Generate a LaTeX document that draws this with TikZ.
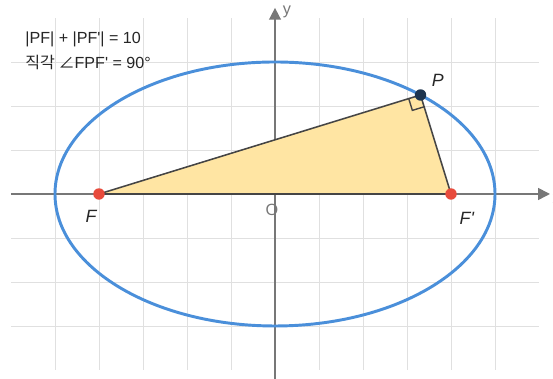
\documentclass[tikz,border=0pt]{standalone}
\usepackage{fontspec}
\setsansfont{Liberation Sans}
\newfontfamily\krfont{Noto Sans CJK KR}
\usetikzlibrary{arrows.meta, positioning, calc}
\definecolor{ggrid}{HTML}{E0E0E0}
\definecolor{gaxis}{HTML}{777777}
\definecolor{eblue}{HTML}{4A8FDA}
\definecolor{tfill}{HTML}{FFE5A3}
\definecolor{tedge}{HTML}{454545}
\definecolor{fred}{HTML}{E84B3C}
\definecolor{pnavy}{HTML}{1E354F}

\begin{document}
\begin{tikzpicture}

\tikzstyle{gridline} = [ggrid, line width=0.6pt]
\tikzstyle{axis} = [-{Triangle[length=0.27cm, width=0.27cm]}, gaxis, line width=1pt]
\tikzstyle{axlabel} = [text=gaxis, font=\sffamily\fontsize{10.5}{12}\selectfont, inner sep=0pt]
\tikzstyle{curve} = [eblue, line width=1.9pt]
\tikzstyle{tri} = [draw=tedge, fill=tfill, line width=1pt, line join=round]
\tikzstyle{focus} = [circle, fill=fred, minimum size=0.26cm, inner sep=0pt]
\tikzstyle{point} = [circle, fill=pnavy, minimum size=0.26cm, inner sep=0pt]
\tikzstyle{ptlabel} = [text=black!85, font=\sffamily\itshape\fontsize{11.5}{13}\selectfont, inner sep=0pt]
\tikzstyle{note} = [text=black!85, font=\sffamily\fontsize{10.4}{12}\selectfont, inner sep=0pt]

\useasboundingbox (-6.25,-4.182) rectangle (6.318,4.409);

% Grid
\foreach \x in {-5,...,5}
  \draw[gridline] (\x,-4) -- (\x,4);
\foreach \y in {-3,...,3}
  \draw[gridline] (-6,\y) -- (6,\y);

% Axes
\coordinate (xs) at (-6,0);
\coordinate (xe) at (6.25,0);
\coordinate (ys) at (0,-4.25);
\coordinate (ye) at (0,4.23);
\draw[axis] (xs) -- (xe);
\draw[axis] (ys) -- (ye);
\node[axlabel] (ylab) at (0.27,4.14) {y};
\node[axlabel] (xlab) at (6.4,-0.12) {x};
\node[axlabel] (orig) at (-0.07,-0.37) {O};

% Triangle
\coordinate (F) at (-4,0);
\coordinate (Fp) at (4,0);
\coordinate (P) at (3.307,2.25);
\draw[tri] (F) -- (P) -- (Fp) -- cycle;
\coordinate (ra) at ($(P)!0.28cm!(F)$);
\coordinate (rb) at ($(P)!0.28cm!(Fp)$);
\draw[tedge, line width=0.9pt] (ra) -- ($(ra)+(rb)-(P)$) -- (rb);

% Ellipse
\draw[curve] (0,0) ellipse (5 and 3);

% Points
\node[focus] (fdot) at (F) {};
\node[focus] (fpdot) at (Fp) {};
\node[point] (pdot) at (P) {};
\node[ptlabel] (flab) at (-4.18,-0.5) {F};
\node[ptlabel] (fplab) at (4.36,-0.55) {F\textquotesingle};
\node[ptlabel] (plab) at (3.7,2.59) {P};

% Notes
\node[note, anchor=west] (sum) at (-5.68,3.52) {|PF| + |PF\textquotesingle| = 10};
\node[note, below=0.52cm of sum.west, anchor=west] (right) {{\krfont 직각 ∠}FPF\textquotesingle{} = 90°};

\end{tikzpicture}
\end{document}
